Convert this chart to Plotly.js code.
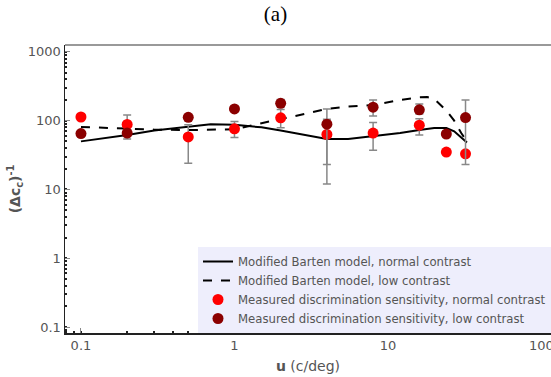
<!DOCTYPE html>
<html>
<head>
<meta charset="utf-8">
<script src="https://cdn.plot.ly/plotly-3.0.1.min.js"></script>
<style>html,body{margin:0;padding:0;background:#fff;}#chart{width:551px;height:377px;}</style>
</head>
<body>
<div id="chart"></div>
<script>
// Model curves
var modelU = [0.1, 0.15, 0.2, 0.3, 0.5, 0.7, 1, 1.5, 2, 3, 4, 5.5, 8, 12, 16, 18, 20, 24, 27, 30, 32.7];
var modelNormal = [50, 56, 62, 72, 82, 89, 87, 80, 72, 60, 54, 54, 59, 66, 73, 76, 78, 78, 70, 57, 48];
var modelLow = [81, 78, 75, 74, 73, 74, 75, 92, 105, 128, 148, 160, 169, 200, 218, 220, 207, 140, 100, 66, 50];

// Measured points
var measU = [0.1, 0.2, 0.5, 1, 2, 4, 8, 16, 24, 32];
var measNormal = [113, 88, 58, 76, 110, 63, 66, 86, 35, 33];
var measNormalHi = [null, 121, 87, 97, 145, 148, 94, 107, null, null];
var measNormalLo = [null, 54, 24, 57, 79, 12, 37, 62, null, null];
var measLow = [65, 66, 112, 148, 179, 89, 157, 144, 64, 111];
var measLowHi = [null, null, null, null, 203, 105, 200, 175, null, 200];
var measLowLo = [null, null, null, null, 160, 23, 117, 125, null, 23];

var xTicks = [0.1, 1, 10, 100];
var xTickText = ['0.1', '1', '10', '100'];
var yTicks = [0.1, 1, 10, 100, 1000];
var yTickText = ['0.1', '1', '10', '100', '1000'];

var traceNames = [
  'Modified Barten model, normal contrast',
  'Modified Barten model, low contrast',
  'Measured discrimination sensitivity, normal contrast',
  'Measured discrimination sensitivity, low contrast'
];

function plus(y, hi){ return y.map(function(v,i){ return hi[i]==null ? NaN : hi[i]-v; }); }
function minus(y, lo){ return y.map(function(v,i){ return lo[i]==null ? NaN : v-lo[i]; }); }

var errStyle = {type:'data', symmetric:false, color:'#888', thickness:1.5, width:4};

var data = [
  {x: modelU, y: modelNormal, mode:'lines', name: traceNames[0],
   line:{color:'#000', width:2}},
  {x: modelU, y: modelLow, mode:'lines', name: traceNames[1],
   line:{color:'#000', width:2, dash:'dash'}},
  {x: measU, y: measNormal, mode:'markers', name: traceNames[2],
   marker:{color:'#ff0000', size:11},
   error_y: Object.assign({array: plus(measNormal, measNormalHi), arrayminus: minus(measNormal, measNormalLo)}, errStyle)},
  {x: measU, y: measLow, mode:'markers', name: traceNames[3],
   marker:{color:'#8b0000', size:11},
   error_y: Object.assign({array: plus(measLow, measLowHi), arrayminus: minus(measLow, measLowLo)}, errStyle)}
];

var ff = 'DejaVu Sans, Verdana, sans-serif';

var layout = {
  width:551, height:377,
  margin:{l:65, r:0, t:45, b:44},
  paper_bgcolor:'#fff', plot_bgcolor:'#fff',
  font: {family:ff, size:12, color:'#555'},
  title:{text:'(a)', x:0.5, xanchor:'center', y:0.965, yanchor:'middle',
         font:{family:'Liberation Serif, Times New Roman, serif', size:21, color:'#000'}},
  showlegend:true,
  legend:{x:1, xanchor:'right', y:0, yanchor:'bottom', bgcolor:'#eeeefc',
          font:{family:ff, size:11.7, color:'#555'},
          tracegroupgap:0, itemwidth:30},
  xaxis:{type:'log', range:[-1.104, 2.062], tickvals:xTicks, ticktext:xTickText,
         ticklabeloverflow:'allow',
         showgrid:false, zeroline:false, showline:true, linecolor:'#222', linewidth:1.5,
         ticks:'inside', ticklen:5, tickcolor:'#888', tickwidth:1,
         minor:{ticks:'inside', ticklen:2, tickwidth:2, tickcolor:'#222', dtick:'D1', showgrid:false},
         tickfont:{family:ff, size:13, color:'#555'},
         title:{text:'<b>u</b> (c/deg)', standoff:9,
                font:{family:ff, size:14, color:'#555'}}},
  yaxis:{type:'log', range:[-1.087, 3.10], tickvals:yTicks, ticktext:yTickText,
         ticklabeloverflow:'allow',
         showgrid:false, zeroline:false, showline:true, linecolor:'#222', linewidth:1.5,
         ticks:'inside', ticklen:5, tickcolor:'#888', tickwidth:1,
         minor:{ticks:'inside', ticklen:2, tickwidth:2, tickcolor:'#222', dtick:'D1', showgrid:false},
         tickfont:{family:ff, size:13, color:'#555'},
         title:{text:'<b>(Δc<sub>c</sub>)<sup>-1</sup></b>', standoff:4,
                font:{family:ff, size:14, color:'#555'}}},
  shapes:[{type:'line', xref:'paper', yref:'paper', x0:0, x1:1, y0:1, y1:1,
           line:{color:'#999', width:2}}]
};

Plotly.newPlot('chart', data, layout, {displayModeBar:false, staticPlot:true});
</script>
</body>
</html>
